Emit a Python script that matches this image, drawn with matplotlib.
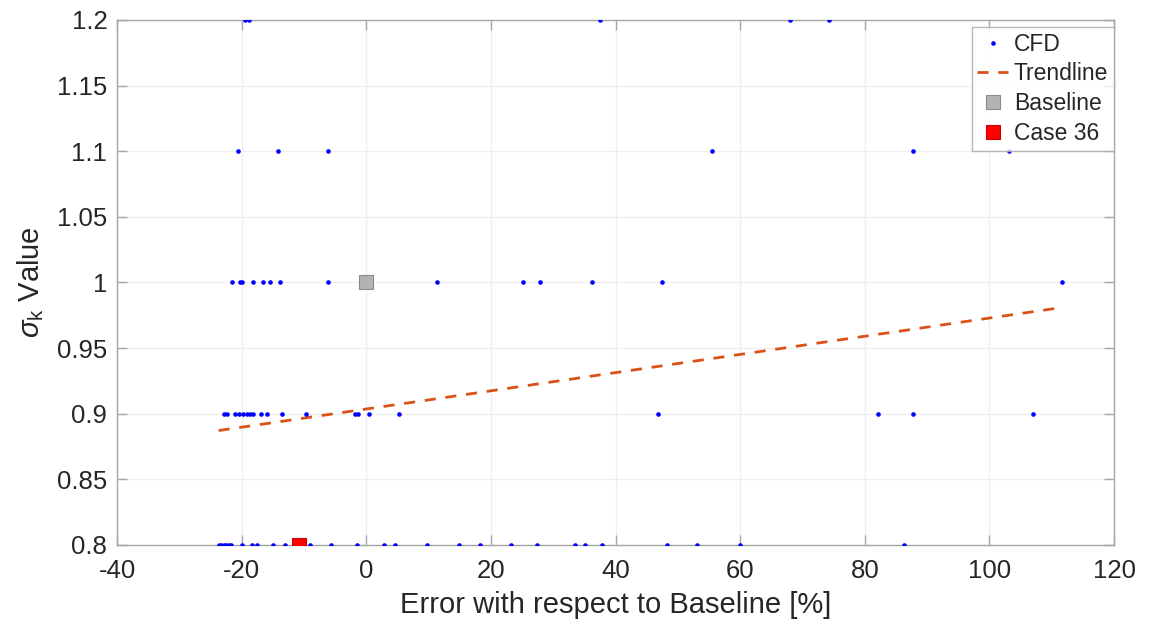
import numpy as np
import matplotlib
matplotlib.use("Agg")
import matplotlib.pyplot as plt

plt.rcParams['font.family'] = ['Liberation Sans', 'DejaVu Sans']
plt.rcParams['mathtext.fontset'] = 'custom'
plt.rcParams['mathtext.rm'] = 'Liberation Sans'
plt.rcParams['mathtext.it'] = 'Liberation Sans:italic'
plt.rcParams['axes.unicode_minus'] = False

# CFD results: error vs baseline [%] grouped by sigma_k value
err_080 = [-23.7, -23.3, -22.9, -22.5, -22.1, -21.7, -20.0, -18.4, -17.5, -15.0,
           -13.0, -9.1, -5.7, -1.5, 2.9, 4.6, 9.8, 14.8, 18.2, 23.2, 27.4,
           33.5, 35.1, 37.9, 48.3, 53.0, 59.9, 86.3]
err_090 = [-22.9, -22.3, -21.1, -20.5, -19.8, -19.1, -18.7, -18.1, -16.9, -15.9,
           -13.6, -9.7, -1.8, -1.4, 0.5, 5.3, 46.8, 82.1, 87.7, 107.0]
err_100 = [-21.6, -20.3, -19.9, -18.1, -16.6, -15.5, -13.8, -6.1, 11.4, 25.1,
           27.8, 36.2, 47.5, 111.7]
err_110 = [-20.6, -14.1, -6.2, 55.5, 87.8, 103.1]
err_120 = [-19.4, -18.9, 37.5, 68.0, 74.3]

sigma_levels = [0.8, 0.9, 1.0, 1.1, 1.2]
err_groups = [err_080, err_090, err_100, err_110, err_120]

baseline_err, baseline_sigma = 0.0, 1.0
case36_err, case36_sigma = -10.8, 0.8

# linear trendline coefficients (sigma_k = slope * error + intercept)
trend_slope = 0.000693
trend_intercept = 0.9036

x_ticks = [-40, -20, 0, 20, 40, 60, 80, 100, 120]
y_ticks = [0.8, 0.85, 0.9, 0.95, 1.0, 1.05, 1.1, 1.15, 1.2]
y_ticklabels = ['0.8', '0.85', '0.9', '0.95', '1', '1.05', '1.1', '1.15', '1.2']

cfd_x = np.concatenate([np.array(g, dtype=float) for g in err_groups])
cfd_y = np.concatenate([np.full(len(g), s) for g, s in zip(err_groups, sigma_levels)])

trend_x = np.array([cfd_x.min(), cfd_x.max()])
trend_y = trend_slope * trend_x + trend_intercept

fig = plt.figure(figsize=(11.53, 6.28), dpi=100)
ax = fig.add_axes([0.1015, 0.1322, 0.8647, 0.836])

ax.plot(cfd_x, cfd_y, 'o', color='#0000ff', markersize=3.3, markeredgewidth=0,
        linestyle='none', label='CFD', zorder=3)
ax.plot(trend_x, trend_y, '--', color='#D95319', linewidth=2.0, dashes=(4, 3.5),
        label='Trendline', zorder=2)
ax.plot([baseline_err], [baseline_sigma], 's', color='#b3b3b3', markeredgecolor='#8c8c8c',
        markeredgewidth=0.8, markersize=10, linestyle='none', label='Baseline', zorder=4)
ax.plot([case36_err], [case36_sigma], 's', color='#ff0000', markeredgecolor='#cc0000',
        markeredgewidth=0.8, markersize=10, linestyle='none', label='Case 36', zorder=5)

ax.set_xlim(-40, 120)
ax.set_ylim(0.8, 1.2)
ax.set_xticks(x_ticks)
ax.set_yticks(y_ticks)
ax.set_yticklabels(y_ticklabels)

ax.grid(True, color='#efefef', linewidth=0.9)
ax.set_axisbelow(True)
for sp in ax.spines.values():
    sp.set_color('#a6a6a6')
    sp.set_linewidth(1.0)
ax.tick_params(direction='in', length=7, width=1.0, color='#a6a6a6',
               labelsize=18.5, labelcolor='#262626', top=True, right=True)
ax.tick_params(axis='x', pad=10)
ax.tick_params(axis='y', pad=7)

ax.set_xlabel('Error with respect to Baseline [%]', fontsize=21, color='#262626', labelpad=6)
ax.set_ylabel(r'$\sigma_\mathrm{k}$ Value', fontsize=21, color='#262626', labelpad=8)

leg = ax.legend(loc='upper right', bbox_to_anchor=(1.0, 0.987), fontsize=16.5,
                frameon=True, fancybox=False, edgecolor='#a6a6a6',
                borderpad=0.25, labelspacing=0.3, handlelength=1.35,
                handletextpad=0.25, borderaxespad=0.0, markerscale=1.0)
leg.get_frame().set_linewidth(1.0)
for t in leg.get_texts():
    t.set_color('#262626')

fig.savefig('out.png', dpi=100, facecolor='white')
